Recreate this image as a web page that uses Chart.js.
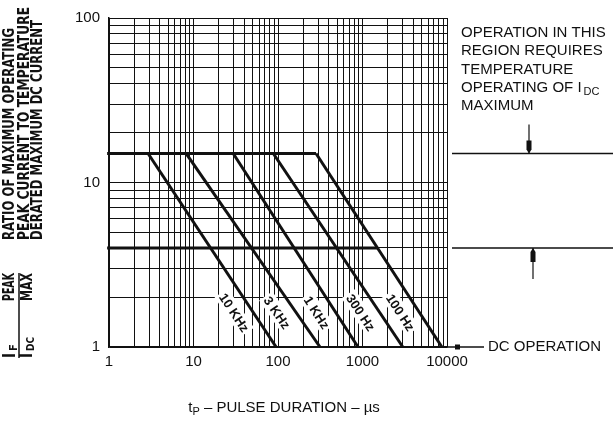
<!DOCTYPE html>
<html>
<head>
<meta charset="utf-8">
<script src="https://cdn.jsdelivr.net/npm/chart.js@4.4.1/dist/chart.umd.min.js"></script>
<style>
body{margin:0;background:#fff;}
canvas{display:block;}
</style>
</head>
<body>
<canvas id="chartCanvas" width="613" height="423"></canvas>
<script>

// tick labels
const xTickValues = [1, 10, 100, 1000, 10000];
const yTickValues = [1, 10, 100];

// pulse frequency curves
const curveNames = ["10 KHz", "3 KHz", "1 KHz", "300 Hz", "100 Hz"];
const curveStartX = [2.9, 8.2, 29.5, 88, 282];     // tp where ratio sits on the peak limit
const curveEndX = [95, 314, 885, 3000, 8700];      // tp where ratio falls to 1

// limits
const peakLimit = 15;
const tempLimit = 4;
const tempLimitEndX = 1480;
const dcRatio = 1;
const limitStartX = 0.95;
const labelRatio = 1.62;

const ink = "#111";

function logGrid(ticks){
const out = [];
for(let i = 0; i < ticks.length - 1; i++){
for(let k = 1; k <= 9; k++){
out.push(ticks[i] * k);
}
}
out.push(ticks[ticks.length - 1]);
return out;
}

const xGrid = logGrid(xTickValues);
const yGrid = logGrid(yTickValues);

const datasets = curveNames.map((name, i) => ({
label: name,
data: [{x: curveStartX[i], y: peakLimit}, {x: curveEndX[i], y: dcRatio}]
}));

datasets.push({
label: "peak limit",
data: [{x: limitStartX, y: peakLimit}, {x: curveStartX[4], y: peakLimit}]
});

datasets.push({
label: "temperature limit",
data: [{x: limitStartX, y: tempLimit}, {x: tempLimitEndX, y: tempLimit}]
});

datasets.forEach(d => {
d.showLine = true;
d.borderColor = ink;
d.borderWidth = 3;
d.pointRadius = 0;
d.fill = false;
d.clip = false;
});

// draws rotated text (reading upward), fitted to a width if given
function upText(ctx, text, cx, yBottom, font, width, dv){
ctx.save();
ctx.translate(cx, yBottom);
ctx.rotate(-Math.PI / 2);
ctx.font = font;
ctx.textAlign = "left";
ctx.textBaseline = "middle";
if(width){
const w = ctx.measureText(text).width;
ctx.scale(width / w, 1);
}
ctx.fillText(text, 0, dv || 0);
ctx.restore();
}

const decorations = {
id: "decorations",
afterDatasetsDraw(chart){
const ctx = chart.ctx;
const xs = chart.scales.x;
const ys = chart.scales.y;

// curve labels on white boxes
ctx.save();
ctx.font = "bold 13px 'Liberation Sans', Arial, sans-serif";
ctx.textAlign = "center";
ctx.textBaseline = "middle";
curveNames.forEach((name, i) => {
const x0 = xs.getPixelForValue(curveStartX[i]);
const y0 = ys.getPixelForValue(peakLimit);
const x1 = xs.getPixelForValue(curveEndX[i]);
const y1 = ys.getPixelForValue(dcRatio);
const ly = ys.getPixelForValue(labelRatio);
const lx = x0 + (x1 - x0) * (ly - y0) / (y1 - y0);
const ang = Math.atan2(y1 - y0, x1 - x0);
ctx.save();
ctx.translate(lx - 19, ly);
ctx.rotate(ang);
const w = ctx.measureText(name).width;
ctx.fillStyle = "#fff";
ctx.fillRect(-w / 2 - 2, -8, w + 4, 16);
ctx.fillStyle = ink;
ctx.fillText(name, 0, 1);
ctx.restore();
});
ctx.restore();
},
afterDraw(chart){
const ctx = chart.ctx;
const area = chart.chartArea;
const ys = chart.scales.y;
const W = chart.width;

const yPeak = ys.getPixelForValue(peakLimit);
const yTemp = ys.getPixelForValue(tempLimit);
const yDc = ys.getPixelForValue(dcRatio);

ctx.save();
ctx.strokeStyle = ink;
ctx.fillStyle = ink;

// right hand region marks
ctx.lineWidth = 1.5;
ctx.beginPath();
ctx.moveTo(area.right + 5, yPeak);
ctx.lineTo(W, yPeak);
ctx.moveTo(area.right + 5, yTemp);
ctx.lineTo(W, yTemp);
ctx.stroke();

// arrows
ctx.lineWidth = 1.2;
let ax = 529;
ctx.beginPath();
ctx.moveTo(ax, yPeak - 29);
ctx.lineTo(ax, yPeak);
ctx.stroke();
ctx.beginPath();
ctx.moveTo(ax - 2.5, yPeak - 13);
ctx.lineTo(ax + 2.5, yPeak - 13);
ctx.lineTo(ax + 2.5, yPeak - 4);
ctx.lineTo(ax, yPeak);
ctx.lineTo(ax - 2.5, yPeak - 4);
ctx.closePath();
ctx.fill();

ax = 533;
ctx.beginPath();
ctx.moveTo(ax, yTemp);
ctx.lineTo(ax, yTemp + 31);
ctx.stroke();
ctx.beginPath();
ctx.moveTo(ax - 2.5, yTemp + 14);
ctx.lineTo(ax + 2.5, yTemp + 14);
ctx.lineTo(ax + 2.5, yTemp + 4);
ctx.lineTo(ax, yTemp);
ctx.lineTo(ax - 2.5, yTemp + 4);
ctx.closePath();
ctx.fill();

// DC operation pointer
ctx.lineWidth = 1.5;
ctx.beginPath();
ctx.moveTo(area.right, yDc);
ctx.lineTo(484, yDc);
ctx.stroke();
ctx.fillRect(455, yDc - 2.5, 5, 5);

ctx.font = "15px 'Liberation Sans', Arial, sans-serif";
ctx.textAlign = "left";
ctx.textBaseline = "middle";
ctx.fillText("DC OPERATION", 488, yDc);

// region note
const note = ["OPERATION IN THIS", "REGION REQUIRES", "TEMPERATURE", "OPERATING OF I", "MAXIMUM"];
note.forEach((line, i) => {
ctx.fillText(line, 461, 33 + i * 18.3);
});
const wOp = ctx.measureText("OPERATING OF I").width;
ctx.font = "11px 'Liberation Sans', Arial, sans-serif";
ctx.fillText("DC", 461 + wOp + 2, 33 + 3 * 18.3 + 4);

// x axis title
ctx.font = "15px 'Liberation Sans', Arial, sans-serif";
const tail = " \u2013 PULSE DURATION \u2013 \u00b5s";
const wT = ctx.measureText("t").width;
ctx.font = "11px 'Liberation Sans', Arial, sans-serif";
const wP = ctx.measureText("P").width;
ctx.font = "15px 'Liberation Sans', Arial, sans-serif";
const wTail = ctx.measureText(tail).width;
const total = wT + wP + wTail;
const tx = (area.left + area.right) / 2 - total / 2 + 6;
const ty = 408;
ctx.fillText("t", tx, ty);
ctx.font = "11px 'Liberation Sans', Arial, sans-serif";
ctx.fillText("P", tx + wT, ty + 4);
ctx.font = "15px 'Liberation Sans', Arial, sans-serif";
ctx.fillText(tail, tx + wT + wP, ty);

// y axis title
const bold = "bold 15px 'DejaVu Sans Condensed', 'Liberation Sans Narrow', sans-serif";
upText(ctx, "RATIO OF MAXIMUM OPERATING", 10.5, 240, bold, 212);
upText(ctx, "PEAK CURRENT TO TEMPERATURE", 25, 240, bold, 233);
upText(ctx, "DERATED MAXIMUM DC CURRENT", 38, 240, bold, 220);

// fraction symbol
const bigI = "bold 18px 'Liberation Sans', Arial, sans-serif";
const sub = "bold 11px 'DejaVu Sans Condensed', 'Liberation Sans Narrow', sans-serif";
upText(ctx, "I", 10, 358, bigI);
upText(ctx, "F", 14.5, 351, sub);
upText(ctx, "PEAK", 10.5, 301, bold, 28);
ctx.lineWidth = 1.5;
ctx.beginPath();
ctx.moveTo(19, 358);
ctx.lineTo(19, 273);
ctx.stroke();
upText(ctx, "I", 27, 358, bigI);
upText(ctx, "DC", 31.5, 351, sub, 14);
upText(ctx, "MAX", 28, 301, bold, 28);

ctx.restore();
}
};

const chart = new Chart(document.getElementById("chartCanvas"), {

type: "scatter",

data: {datasets: datasets},

options: {
responsive: false,
animation: false,
devicePixelRatio: 1,
layout: {
padding: {top: 13, right: 166, left: 0, bottom: 0}
},
plugins: {
legend: {display: false},
tooltip: {enabled: false}
},
scales: {
x: {
type: "logarithmic",
min: 1,
max: 10000,
afterBuildTicks: axis => {
axis.ticks = xGrid.map(v => ({value: v}));
},
afterFit: axis => {
axis.height = 76;
},
grid: {
color: ink,
lineWidth: 1,
drawTicks: false
},
border: {color: ink, width: 1.5},
ticks: {
autoSkip: false,
maxRotation: 0,
padding: 6,
color: ink,
font: {family: "'Liberation Sans', Arial, sans-serif", size: 15},
callback: v => xTickValues.includes(v) ? String(v) : ""
}
},
y: {
type: "logarithmic",
min: 1,
max: 100,
afterBuildTicks: axis => {
axis.ticks = yGrid.map(v => ({value: v}));
},
afterFit: axis => {
axis.width = 109;
},
grid: {
color: ink,
lineWidth: 1,
drawTicks: false
},
border: {color: ink, width: 1.5},
ticks: {
autoSkip: false,
padding: 9,
color: ink,
font: {family: "'Liberation Sans', Arial, sans-serif", size: 15},
callback: v => yTickValues.includes(v) ? String(v) : ""
}
}
}
},

plugins: [decorations]

});

</script>
</body>
</html>
